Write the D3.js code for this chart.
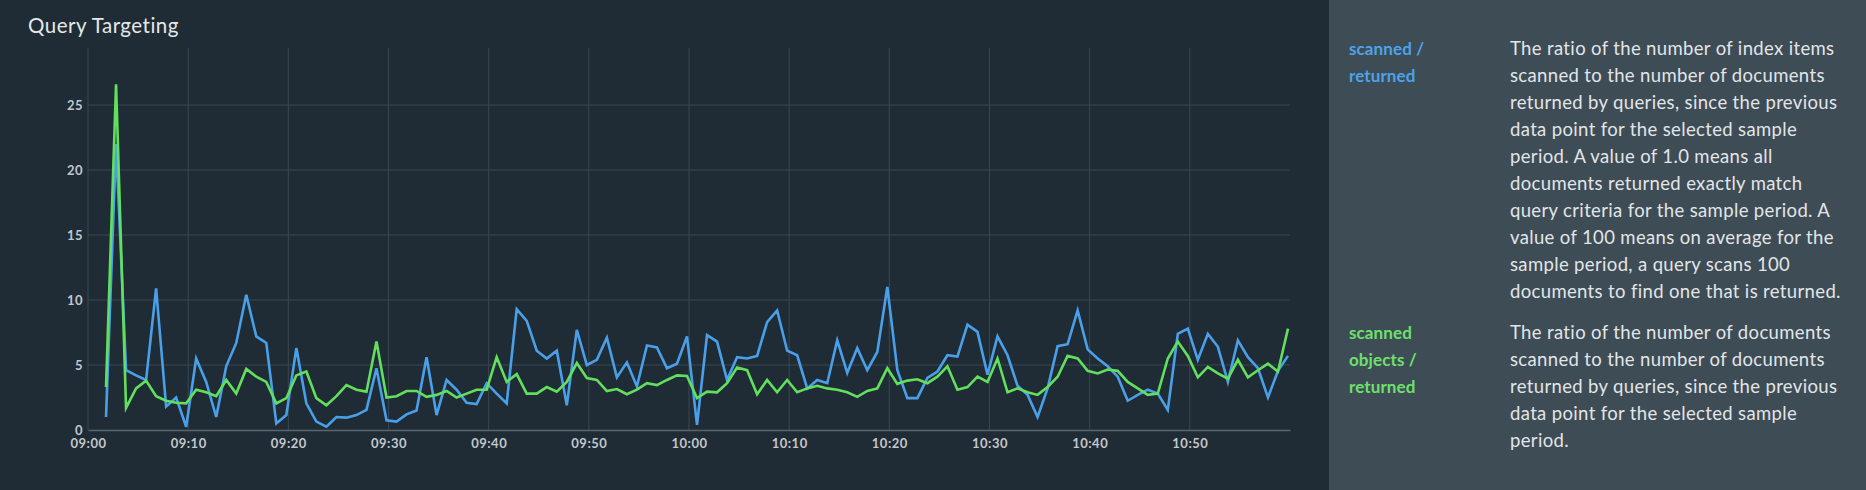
<!DOCTYPE html>
<html>
<head>
<meta charset="utf-8">
<script src="https://cdn.jsdelivr.net/npm/d3@7"></script>
<style>
  body { margin: 0; background: #1f2c36; }
  svg { display: block; }
</style>
</head>
<body>
<div class="chart"></div>
<script>
// samples are 1 minute apart, first one at 09:01:48
var firstSample = "09:01:48";
var sampleMinutes = 1;

var scannedReturned = [
  1.0, 22.0, 4.6, 4.2, 3.85, 10.9, 1.8, 2.5, 0.25, 5.5,
  3.7, 1.0, 4.9, 6.7, 10.4, 7.2, 6.7, 0.5, 1.15, 6.3,
  2.05, 0.65, 0.25, 1.0, 0.95, 1.15, 1.55, 4.75, 0.75, 0.65,
  1.2, 1.5, 5.6, 1.15, 3.85, 3.1, 2.1, 2.0, 3.6, 2.8,
  2.05, 9.3, 8.4, 6.1, 5.5, 6.1, 1.9, 7.7, 5.0, 5.4,
  7.1, 4.05, 5.2, 3.35, 6.5, 6.35, 4.75, 5.1, 7.2, 0.4,
  7.3, 6.8, 3.85, 5.6, 5.5, 5.7, 8.3, 9.2, 6.1, 5.75,
  3.2, 3.85, 3.6, 6.9, 4.4, 6.3, 4.6, 6.0, 11.0, 4.6,
  2.45, 2.45, 4.0, 4.5, 5.75, 5.65, 8.1, 7.55, 4.25, 7.2,
  5.75, 3.4, 2.7, 1.0, 3.2, 6.45, 6.6, 9.2, 6.2, 5.5,
  4.9, 4.1, 2.25, 2.7, 3.1, 2.8, 1.55, 7.4, 7.8, 5.4,
  7.4, 6.4, 3.7, 6.9, 5.6, 4.75, 2.5, 4.55, 5.7
];

var scannedObjectsReturned = [
  3.3, 26.6, 1.7, 3.2, 3.8, 2.6, 2.25, 2.1, 2.05, 3.1,
  2.9, 2.6, 3.85, 2.8, 4.7, 4.1, 3.7, 2.05, 2.45, 4.2,
  4.5, 2.45, 1.9, 2.6, 3.45, 3.1, 2.95, 6.8, 2.5, 2.6,
  3.0, 3.0, 2.55, 2.7, 3.0, 2.5, 2.8, 3.1, 3.1, 5.6,
  3.7, 4.3, 2.8, 2.8, 3.3, 2.95, 3.7, 5.15, 4.0, 3.85,
  3.0, 3.15, 2.75, 3.1, 3.6, 3.45, 3.85, 4.2, 4.15, 2.45,
  2.95, 2.9, 3.6, 4.8, 4.6, 2.75, 3.85, 2.9, 3.85, 2.9,
  3.2, 3.4, 3.2, 3.1, 2.9, 2.55, 3.0, 3.2, 4.75, 3.55,
  3.8, 3.9, 3.6, 4.1, 4.9, 3.1, 3.3, 4.1, 3.7, 5.5,
  2.9, 3.2, 2.9, 2.7, 3.3, 4.1, 5.7, 5.5, 4.55, 4.35,
  4.65, 4.55, 3.7, 3.2, 2.7, 2.8, 5.5, 6.8, 5.7, 4.05,
  4.85, 4.35, 3.95, 5.4, 4.05, 4.6, 5.1, 4.5, 7.8
];

var yTicks = [0, 5, 10, 15, 20, 25];
var xTicks = ["09:00", "09:10", "09:20", "09:30", "09:40", "09:50",
              "10:00", "10:10", "10:20", "10:30", "10:40", "10:50"];
var xStart = "09:00", xEnd = "11:00";

var seriesNames = [
  ["scanned /", "returned"],
  ["scanned", "objects /", "returned"]
];
var seriesNotes = [
  ["The ratio of the number of index items",
   "scanned to the number of documents",
   "returned by queries, since the previous",
   "data point for the selected sample",
   "period. A value of 1.0 means all",
   "documents returned exactly match",
   "query criteria for the sample period. A",
   "value of 100 means on average for the",
   "sample period, a query scans 100",
   "documents to find one that is returned."],
  ["The ratio of the number of documents",
   "scanned to the number of documents",
   "returned by queries, since the previous",
   "data point for the selected sample",
   "period."]
];
var seriesColors = ["#4aa0e8", "#62df5c"];
var labelColors = ["#4ca3ea", "#6ee06c"];

var W = 1866, H = 490;
var plot = {left: 88, right: 1290, top: 48, bottom: 430};
var font = "Lato, 'Open Sans', sans-serif";

var parseT = d3.timeParse("%H:%M:%S");
var parseHM = d3.timeParse("%H:%M");

var t0 = parseT(firstSample);
var times = scannedReturned.map(function(d, i) {
  return d3.timeMinute.offset(t0, i * sampleMinutes);
});

var svg = d3.select(".chart").append("svg")
    .attr("width", W)
    .attr("height", H);

svg.append("rect")
    .attr("width", W).attr("height", H)
    .attr("fill", "#1f2c36");

var x = d3.scaleTime()
    .domain([parseHM(xStart), parseHM(xEnd)])
    .range([plot.left, plot.right]);

var y = d3.scaleLinear()
    .domain([0, (plot.bottom - plot.top) / 13])
    .range([plot.bottom, plot.top]);

// title
svg.append("text")
    .attr("x", 28).attr("y", 33)
    .style("font-family", font)
    .style("font-size", "20.5px")
    .style("letter-spacing", "0.5px")
    .attr("fill", "#e6e8ea")
    .text("Query Targeting");

// grid
var grid = svg.append("g").attr("class", "grid");

grid.selectAll(".vgrid")
    .data(xTicks.map(function(d) { return parseHM(d); }))
  .enter().append("line")
    .attr("x1", function(d) { return x(d); })
    .attr("x2", function(d) { return x(d); })
    .attr("y1", plot.top).attr("y2", plot.bottom)
    .attr("stroke", "#3b4750")
    .attr("stroke-width", 1);

grid.selectAll(".hgrid")
    .data(yTicks.filter(function(d) { return d > 0; }))
  .enter().append("line")
    .attr("x1", plot.left).attr("x2", plot.right)
    .attr("y1", function(d) { return y(d); })
    .attr("y2", function(d) { return y(d); })
    .attr("stroke", "#3b4750")
    .attr("stroke-width", 1);

// axes
var xAxis = d3.axisBottom(x)
    .tickValues(xTicks.map(function(d) { return parseHM(d); }))
    .tickFormat(d3.timeFormat("%H:%M"))
    .tickSize(0)
    .tickPadding(9);

var yAxis = d3.axisLeft(y)
    .tickValues(yTicks)
    .tickSize(0)
    .tickPadding(5);

var gx = svg.append("g")
    .attr("transform", "translate(0," + plot.bottom + ")")
    .call(xAxis);
gx.select(".domain").attr("stroke", "#5b656d").attr("stroke-width", 1.5);

var gy = svg.append("g")
    .attr("transform", "translate(" + plot.left + ",0)")
    .call(yAxis);
gy.select(".domain").remove();

svg.selectAll(".tick text")
    .style("font-family", font)
    .style("font-size", "13px")
    .style("font-weight", "bold")
    .style("letter-spacing", "0.5px")
    .attr("fill", "#c3c7cb");

// lines
var series = [scannedReturned, scannedObjectsReturned];

var line = d3.line()
    .x(function(d, i) { return x(times[i]); })
    .y(function(d) { return y(d); });

for (var s = 0; s < series.length; s++) {
  svg.append("path")
      .datum(series[s])
      .attr("fill", "none")
      .attr("stroke", seriesColors[s])
      .attr("stroke-width", 2.6)
      .attr("stroke-linejoin", "miter")
      .attr("d", line);
}

// description panel
svg.append("rect")
    .attr("x", 1329).attr("y", 0)
    .attr("width", W - 1329).attr("height", H)
    .attr("fill", "#3e4c56");

var lh = 27;
var blockTop = [55, 339];

for (var s = 0; s < seriesNames.length; s++) {
  svg.append("text")
      .attr("x", 1349).attr("y", blockTop[s])
      .style("font-family", font)
      .style("font-size", "17px")
      .style("font-weight", "bold")
      .style("letter-spacing", "0.1px")
      .attr("fill", labelColors[s])
    .selectAll("tspan")
      .data(seriesNames[s])
    .enter().append("tspan")
      .attr("x", 1349)
      .attr("dy", function(d, i) { return i == 0 ? 0 : lh; })
      .text(function(d) { return d; });

  svg.append("text")
      .attr("x", 1510).attr("y", blockTop[s])
      .style("font-family", font)
      .style("font-size", "18.5px")
      .style("letter-spacing", "0.35px")
      .attr("fill", "#e2e5e7")
    .selectAll("tspan")
      .data(seriesNotes[s])
    .enter().append("tspan")
      .attr("x", 1510)
      .attr("dy", function(d, i) { return i == 0 ? 0 : lh; })
      .text(function(d) { return d; });
}
</script>
</body>
</html>
